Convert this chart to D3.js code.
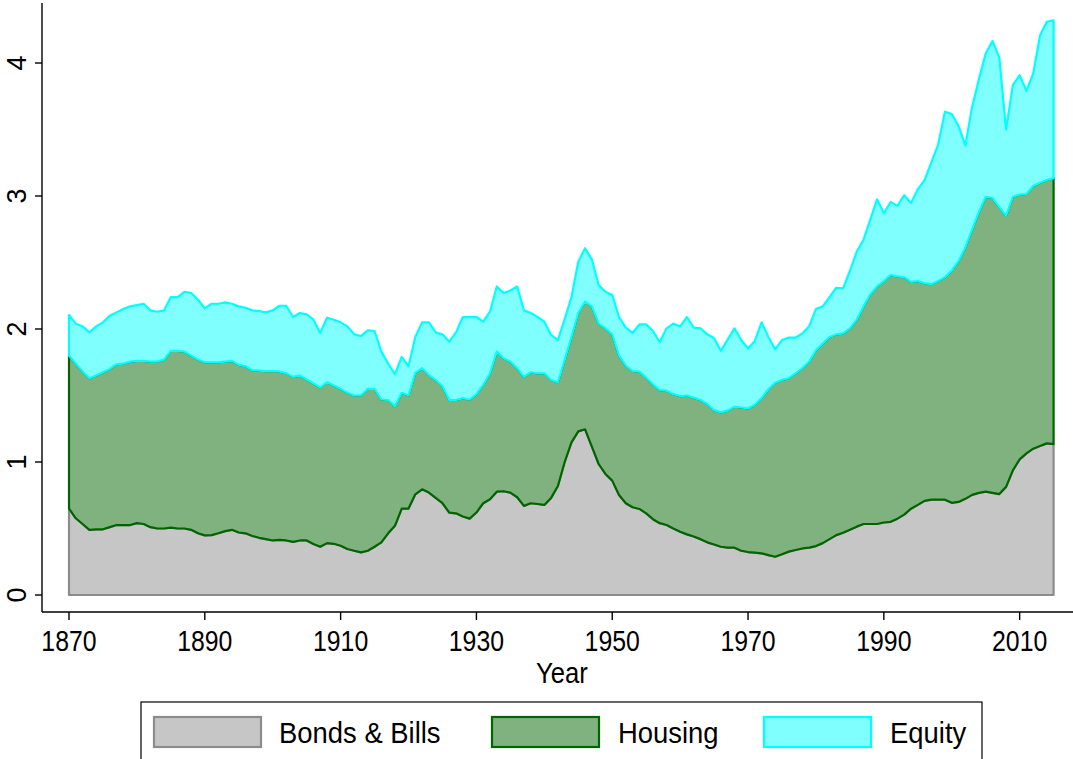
<!DOCTYPE html>
<html>
<head>
<meta charset="utf-8">
<script src="https://cdn.jsdelivr.net/npm/d3@7"></script>
<style>
  body { margin: 0; background: #fff; }
  text { font-family: "Liberation Sans", Arial, Helvetica, sans-serif; fill: #000; }
</style>
</head>
<body>
<svg id="chart" width="1073" height="759"></svg>
<script>
// wealth shares by asset, annual 1870-2015
var firstYear = 1870
var bonds = [
  0.65, 0.577, 0.534, 0.49, 0.494, 0.494, 0.51, 0.526, 0.526, 0.526,
  0.54, 0.534, 0.51, 0.50, 0.50, 0.506, 0.50, 0.50, 0.49, 0.464,
  0.448, 0.45, 0.464, 0.48, 0.49, 0.47, 0.464, 0.444, 0.43, 0.42,
  0.41, 0.414, 0.41, 0.40, 0.41, 0.41, 0.383, 0.363, 0.39, 0.385,
  0.37, 0.346, 0.333, 0.32, 0.333, 0.363, 0.396, 0.464, 0.52, 0.65,
  0.65, 0.757, 0.795, 0.77, 0.73, 0.69, 0.62, 0.614, 0.59, 0.574,
  0.62, 0.69, 0.72, 0.777, 0.78, 0.77, 0.735, 0.67, 0.69, 0.684,
  0.677, 0.73, 0.82, 1.0, 1.148, 1.23, 1.246, 1.115, 0.985, 0.91,
  0.86, 0.752, 0.69, 0.66, 0.647, 0.614, 0.57, 0.54, 0.526, 0.50,
  0.476, 0.456, 0.44, 0.42, 0.396, 0.38, 0.363, 0.356, 0.356, 0.333,
  0.323, 0.318, 0.313, 0.30, 0.288, 0.306, 0.326, 0.338, 0.35, 0.356,
  0.368, 0.39, 0.42, 0.45, 0.468, 0.49, 0.514, 0.534, 0.534, 0.534,
  0.545, 0.55, 0.574, 0.604, 0.649, 0.678, 0.708, 0.717, 0.717, 0.717,
  0.693, 0.70, 0.723, 0.753, 0.768, 0.777, 0.768, 0.759, 0.813, 0.937,
  1.02, 1.065, 1.10, 1.12, 1.14, 1.135
]
var housing = [
  1.15, 1.163, 1.146, 1.14, 1.156, 1.181, 1.19, 1.209, 1.214, 1.229,
  1.22, 1.226, 1.245, 1.255, 1.27, 1.329, 1.335, 1.33, 1.31, 1.306,
  1.302, 1.30, 1.286, 1.275, 1.27, 1.26, 1.256, 1.246, 1.257, 1.264,
  1.274, 1.266, 1.257, 1.24, 1.24, 1.21, 1.207, 1.197, 1.21, 1.19,
  1.18, 1.174, 1.167, 1.18, 1.217, 1.187, 1.074, 1.002, 0.90, 0.87,
  0.85, 0.913, 0.91, 0.884, 0.887, 0.88, 0.846, 0.852, 0.89, 0.894,
  0.89, 0.89, 0.947, 1.053, 1.00, 0.985, 0.97, 0.97, 0.985, 0.983,
  0.99, 0.887, 0.78, 0.767, 0.792, 0.89, 0.959, 1.055, 1.055, 1.095,
  1.10, 1.048, 1.034, 1.024, 1.033, 1.02, 1.014, 1.00, 1.01, 1.01,
  1.02, 1.044, 1.044, 1.046, 1.04, 1.01, 1.01, 1.03, 1.06, 1.077,
  1.079, 1.112, 1.167, 1.247, 1.308, 1.311, 1.304, 1.329, 1.355, 1.399,
  1.472, 1.50, 1.52, 1.51, 1.499, 1.515, 1.556, 1.636, 1.726, 1.786,
  1.815, 1.855, 1.822, 1.786, 1.705, 1.682, 1.637, 1.62, 1.643, 1.673,
  1.747, 1.81, 1.89, 1.994, 2.112, 2.217, 2.217, 2.158, 2.037, 2.057,
  1.99, 1.95, 1.975, 1.98, 1.98, 1.999
]
var equity = [
  0.305, 0.30, 0.34, 0.345, 0.37, 0.375, 0.40, 0.39, 0.41, 0.415,
  0.42, 0.43, 0.385, 0.375, 0.37, 0.405, 0.405, 0.45, 0.47, 0.45,
  0.405, 0.44, 0.44, 0.445, 0.43, 0.44, 0.44, 0.45, 0.448, 0.441,
  0.456, 0.495, 0.508, 0.45, 0.47, 0.49, 0.48, 0.41, 0.485, 0.495,
  0.50, 0.50, 0.46, 0.447, 0.44, 0.435, 0.36, 0.274, 0.24, 0.27,
  0.22, 0.27, 0.345, 0.396, 0.358, 0.39, 0.439, 0.509, 0.61, 0.622,
  0.58, 0.475, 0.463, 0.49, 0.49, 0.535, 0.615, 0.50, 0.445, 0.423,
  0.388, 0.338, 0.317, 0.308, 0.30, 0.386, 0.402, 0.354, 0.29, 0.275,
  0.295, 0.29, 0.286, 0.286, 0.355, 0.401, 0.401, 0.36, 0.469, 0.53,
  0.524, 0.59, 0.526, 0.539, 0.524, 0.54, 0.464, 0.534, 0.589, 0.507,
  0.451, 0.48, 0.57, 0.393, 0.251, 0.30, 0.305, 0.268, 0.262, 0.265,
  0.31, 0.28, 0.30, 0.35, 0.338, 0.431, 0.51, 0.50, 0.56, 0.655,
  0.51, 0.55, 0.53, 0.616, 0.593, 0.69, 0.775, 0.916, 1.027, 1.244,
  1.176, 1.017, 0.765, 0.923, 0.998, 1.078, 1.18, 1.125, 0.65, 0.84,
  0.898, 0.775, 0.845, 1.106, 1.19, 1.186
]
var years = d3.range(firstYear, firstYear + bonds.length)
var xTicks = [1870, 1890, 1910, 1930, 1950, 1970, 1990, 2010]
var yTicks = [0, 1, 2, 3, 4]
var seriesKeys = ['bonds', 'housing', 'equity']
var seriesLabels = ['Bonds & Bills', 'Housing', 'Equity']
var fills = ['#c6c6c6', '#80b280', '#80ffff']
var strokes = ['#8c8c8c', '#006400', '#00ffff']

var svg = d3.select('#chart')
// plot region (axis lines) and scales
var plot = {left: 42, right: 1073, top: 3, bottom: 612}
var x = d3.scaleLinear().domain([1870, 2015]).range([69, 1053.6])
var y = d3.scaleLinear().domain([0, 4]).range([595, 63])

// rows for the stack
var rows = years.map(function (yr, i) {
  return {year: yr, bonds: bonds[i], housing: housing[i], equity: equity[i]}
})
var stacked = d3.stack().keys(seriesKeys)(rows)

var area = d3.area()
  .x(function (d) { return x(d.data.year) })
  .y0(function (d) { return y(d[0]) })
  .y1(function (d) { return y(d[1]) })

svg.append('g').selectAll('path')
  .data(stacked)
  .enter().append('path')
    .attr('d', area)
    .attr('fill', function (d, i) { return fills[i] })
    .attr('stroke', function (d, i) { return strokes[i] })
    .attr('stroke-width', 2.2)
    .attr('stroke-linejoin', 'round')

// axes
var yAxis = svg.append('g')
yAxis.append('line')
  .attr('x1', plot.left).attr('x2', plot.left)
  .attr('y1', plot.top).attr('y2', plot.bottom)
  .attr('stroke', '#000').attr('stroke-width', 1.4)
yAxis.selectAll('.tick').data(yTicks).enter().append('line')
  .attr('x1', plot.left - 7).attr('x2', plot.left)
  .attr('y1', function (d) { return y(d) }).attr('y2', function (d) { return y(d) })
  .attr('stroke', '#000').attr('stroke-width', 1.4)
yAxis.selectAll('text').data(yTicks).enter().append('text')
  .attr('transform', function (d) { return 'translate(26,' + y(d) + ') rotate(-90)' })
  .attr('text-anchor', 'middle')
  .attr('font-size', 27)
  .text(function (d) { return d })

var xAxis = svg.append('g')
xAxis.append('line')
  .attr('x1', plot.left).attr('x2', plot.right)
  .attr('y1', plot.bottom).attr('y2', plot.bottom)
  .attr('stroke', '#000').attr('stroke-width', 1.4)
xAxis.selectAll('.tick').data(xTicks).enter().append('line')
  .attr('x1', function (d) { return x(d) }).attr('x2', function (d) { return x(d) })
  .attr('y1', plot.bottom).attr('y2', plot.bottom + 8)
  .attr('stroke', '#000').attr('stroke-width', 1.4)
xAxis.selectAll('text').data(xTicks).enter().append('text')
  .attr('transform', function (d) { return 'translate(' + x(d) + ',651) scale(0.92,1.08)' })
  .attr('text-anchor', 'middle')
  .attr('font-size', 27)
  .text(function (d) { return d })
svg.append('text')
  .attr('transform', 'translate(562,683) scale(0.95,1.08)')
  .attr('text-anchor', 'middle')
  .attr('font-size', 27)
  .text('Year')

// legend
var legend = svg.append('g')
legend.append('rect')
  .attr('x', 141).attr('y', 702).attr('width', 841).attr('height', 80)
  .attr('fill', '#fff').attr('stroke', '#000').attr('stroke-width', 1.2)
var keyX = [154, 492, 764]
var labelX = [279, 618, 890]
seriesLabels.forEach(function (lab, i) {
  legend.append('rect')
    .attr('x', keyX[i]).attr('y', 717).attr('width', 107).attr('height', 30)
    .attr('fill', fills[i]).attr('stroke', strokes[i]).attr('stroke-width', 2.2)
  legend.append('text')
    .attr('transform', 'translate(' + labelX[i] + ',743) scale(0.98,1.08)')
    .attr('font-size', 28)
    .text(lab)
})
</script>
</body>
</html>
